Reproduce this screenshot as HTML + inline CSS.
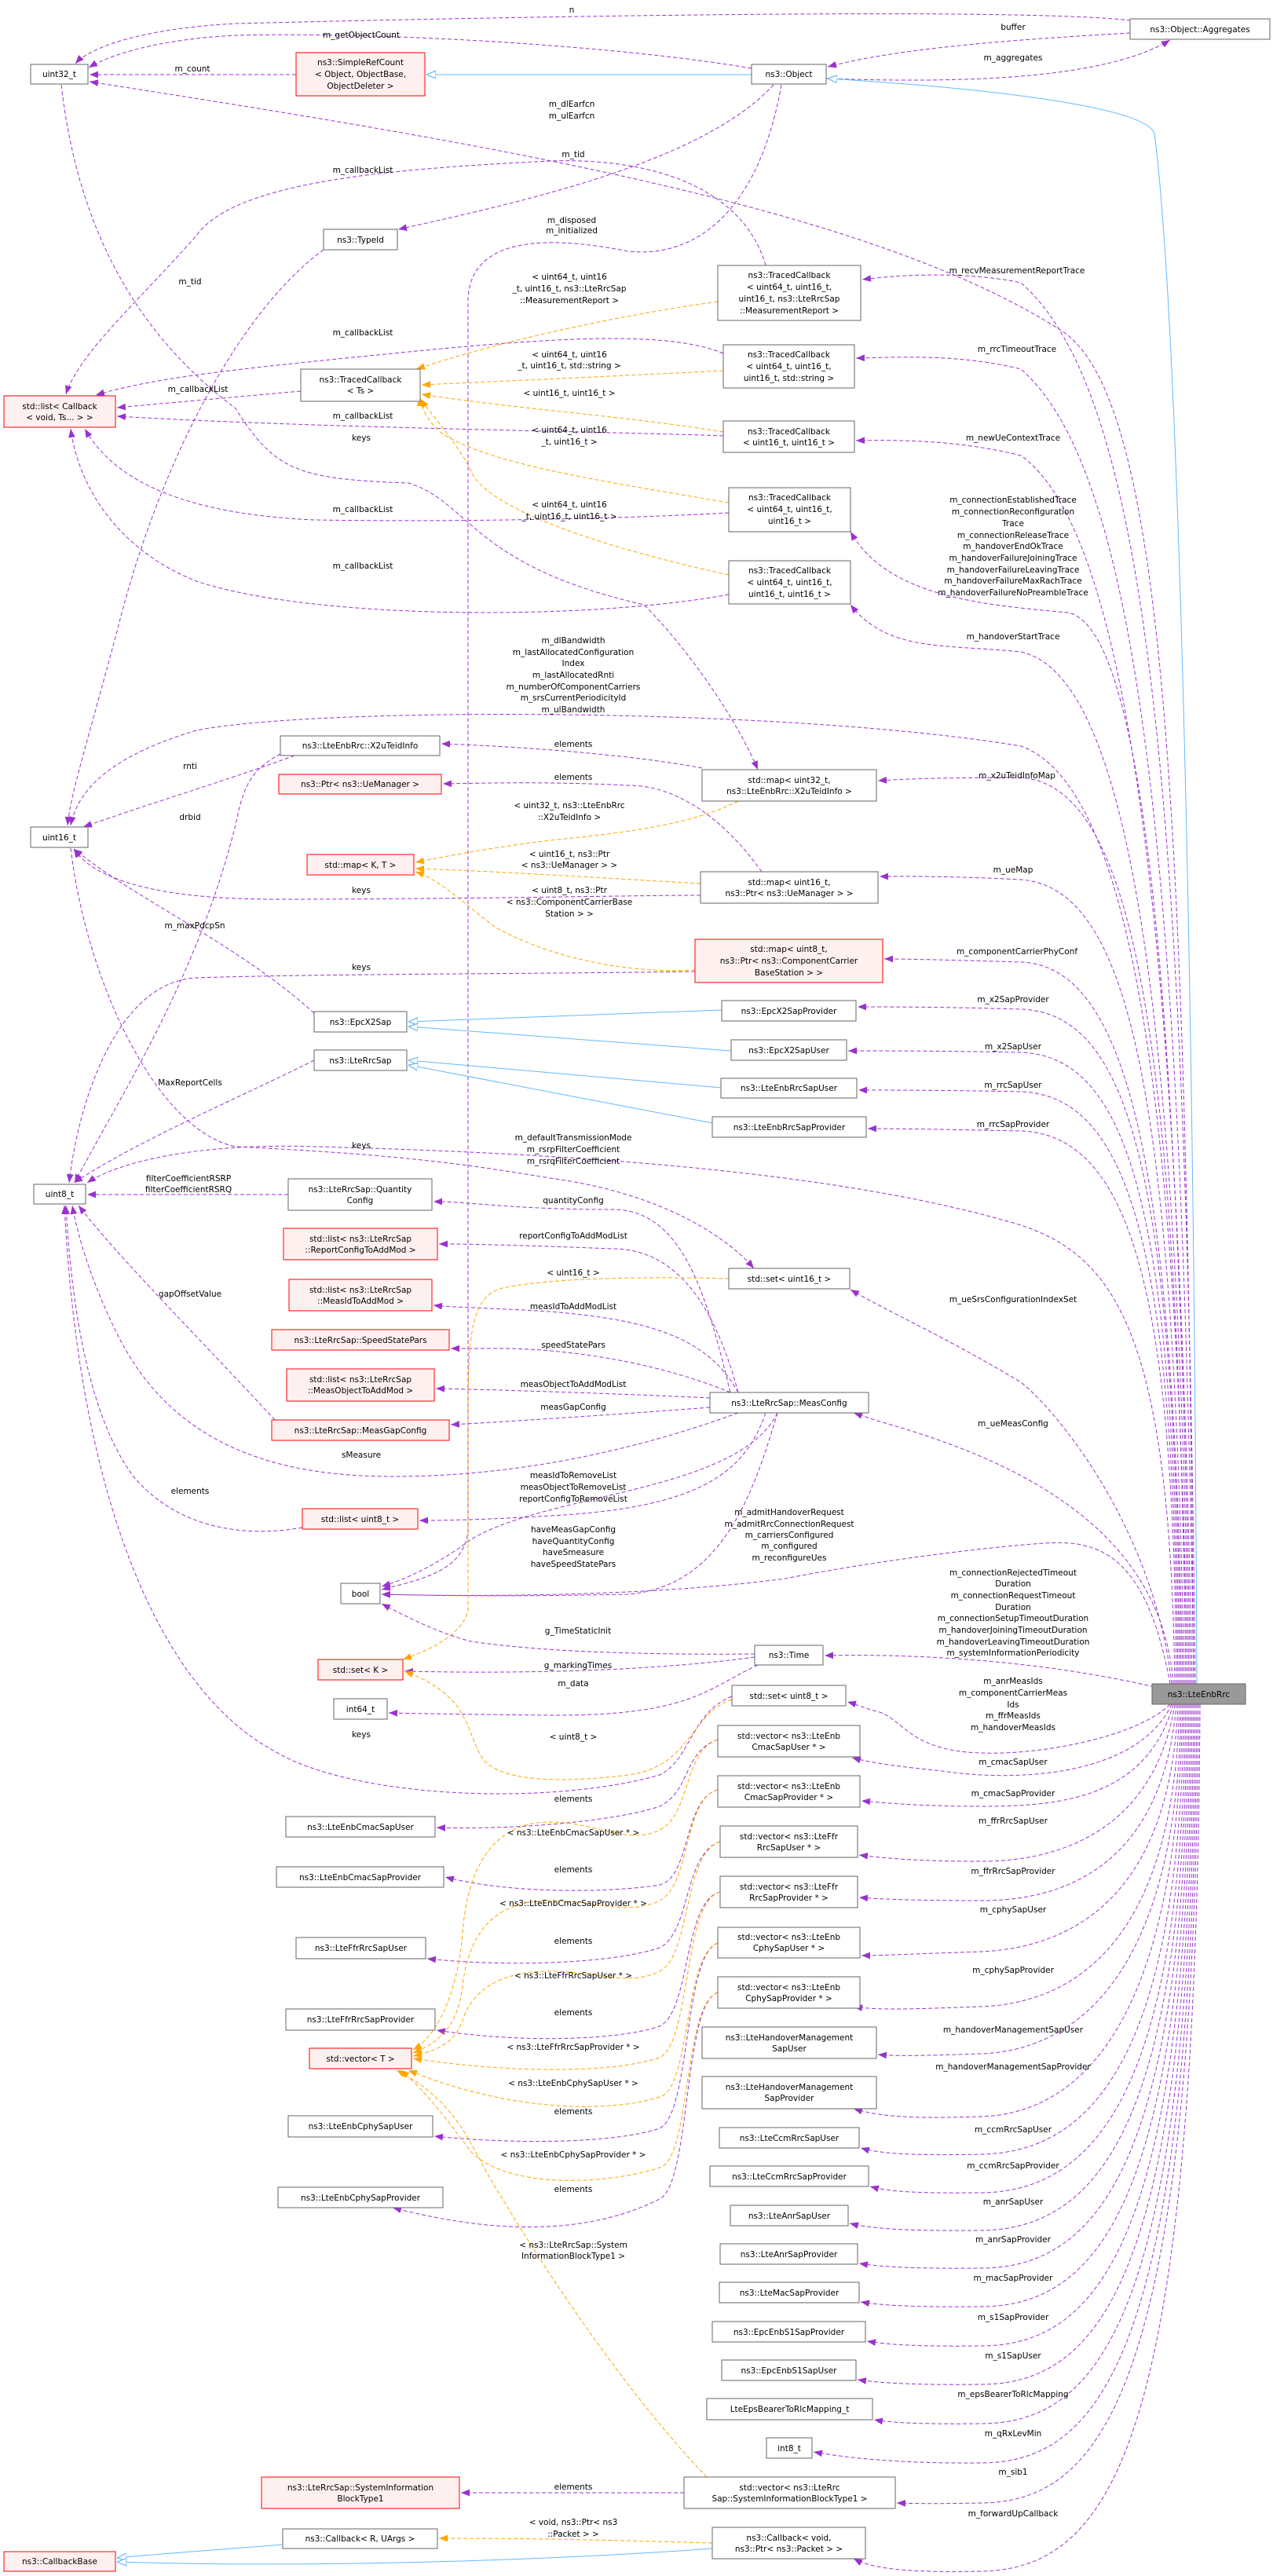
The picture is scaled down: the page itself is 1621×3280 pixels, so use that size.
<!DOCTYPE html>
<html><head><meta charset="utf-8"><style>
html,body{margin:0;padding:0;background:#fff}
svg{display:block}
text{font-family:"DejaVu Sans","Liberation Sans",sans-serif;font-size:10.5px;fill:#000}
.n{fill:#fff;stroke:#666;stroke-width:1}
.r{fill:#fff0f0;stroke:#ff0000;stroke-width:1}
.g{fill:#999;stroke:#666;stroke-width:1}
.p{fill:none;stroke:#9a32cd;stroke-width:1;stroke-dasharray:5,3;marker-end:url(#ap)}
.o{fill:none;stroke:#ffa500;stroke-width:1;stroke-dasharray:5,3;marker-end:url(#ao)}
.b{fill:none;stroke:#63b8ff;stroke-width:1;marker-end:url(#ab)}
.t{text-anchor:middle}
</style></head><body>
<svg width="1621" height="3280" viewBox="0 0 1621 3280" xmlns="http://www.w3.org/2000/svg">
<defs>
<marker id="ap" viewBox="0 0 10 10" refX="10" refY="5" markerWidth="11" markerHeight="11" markerUnits="userSpaceOnUse" orient="auto"><path d="M0,1 L10,5 L0,9z" fill="#9a32cd"/></marker>
<marker id="ao" viewBox="0 0 10 10" refX="10" refY="5" markerWidth="11" markerHeight="11" markerUnits="userSpaceOnUse" orient="auto"><path d="M0,1 L10,5 L0,9z" fill="#ffa500"/></marker>
<marker id="ab" viewBox="0 0 10 10" refX="10" refY="5" markerWidth="12" markerHeight="12" markerUnits="userSpaceOnUse" orient="auto"><path d="M0,1 L10,5 L0,9z" fill="#fff" stroke="#63b8ff"/></marker>
</defs>

<!-- ===== EDGES ===== -->
<!-- top area -->
<path class="p" d="M1440,26 C1300,10 700,20 300,30 C200,35 120,55 96,81"/>
<path class="p" d="M1439,42 C1300,50 1150,60 1054,85"/>
<path class="p" d="M1052,100 C1200,105 1400,105 1490,51"/>
<path class="p" d="M957,87 C800,60 500,40 300,45 C200,50 140,70 113,86"/>
<path class="p" d="M377,95 L114,95"/>
<path class="b" d="M957,95 L543,95"/>
<path class="b" d="M1524,2144 C1520,1200 1500,400 1470,170 C1460,140 1300,115 1054,100"/>
<path class="p" d="M1520,2144 C1510,1000 1480,500 1350,420 C1100,260 600,180 114,104"/>
<path class="p" d="M985,108 C900,200 700,250 507,292"/>
<path class="p" d="M995,108 C970,250 900,330 800,320 C700,300 600,300 596,380 L596,1950 C590,2000 540,2010 486,2024"/>
<path class="p" d="M412,318 C300,400 200,600 150,800 C110,950 90,1010 86,1051"/>
<path class="p" d="M975,338 C950,250 850,200 700,205 C500,215 300,230 250,300 C180,380 100,450 84,502"/>
<path class="p" d="M921,450 C850,420 700,430 500,450 C300,470 200,480 122,503"/>
<path class="p" d="M383,498 L149,519"/>
<path class="p" d="M921,555 C800,550 400,545 149,530"/>
<path class="p" d="M928,653 C800,660 600,665 400,662 C250,655 150,620 108,546"/>
<path class="p" d="M928,757 C750,790 400,790 250,740 C150,700 100,620 90,546"/>
<path class="p" d="M78,108 C100,300 180,430 300,520 C350,600 380,610 520,615 C600,640 600,720 820,770 C880,830 940,920 965,980"/>
<!-- orange template -> TracedCallback<Ts> -->
<path class="o" d="M914,384 C800,400 650,430 530,470"/>
<path class="o" d="M921,472 C800,478 650,485 537,490"/>
<path class="o" d="M921,550 C800,530 650,520 537,502"/>
<path class="o" d="M928,640 C750,610 620,590 560,550 C540,530 535,515 535,506"/>
<path class="o" d="M928,732 C780,700 620,650 600,600 C580,560 550,530 536,508"/>
<!-- traces from LteEnbRrc -->
<path class="p" d="M1522,2144 C1510,1000 1460,500 1300,360 C1230,345 1140,350 1098,356"/>
<path class="p" d="M1520,2144 C1505,1100 1450,600 1300,470 C1220,450 1140,455 1090,456"/>
<path class="p" d="M1518,2144 C1500,1200 1440,680 1300,580 C1220,560 1140,560 1090,561"/>
<path class="p" d="M1516,2144 C1500,1300 1460,800 1360,780 C1250,770 1130,760 1083,677"/>
<path class="p" d="M1514,2144 C1500,1300 1440,860 1300,830 C1200,820 1130,830 1083,770"/>
<path class="p" d="M1512,2144 C1500,1400 1440,1000 1300,950 C1000,900 400,900 250,930 C150,960 100,1000 90,1051"/>
<!-- uint16/uint8 section -->
<path class="p" d="M375,962 C300,990 200,1020 106,1053"/>
<path class="p" d="M357,960 C320,980 310,1000 300,1050 C250,1250 150,1400 95,1506"/>
<path class="p" d="M894,978 C800,960 650,950 562,947"/>
<path class="p" d="M970,1110 C920,1040 860,1000 800,1000 C700,995 620,997 564,998"/>
<path class="p" d="M892,1140 C800,1140 600,1145 350,1145 C200,1145 120,1120 94,1081"/>
<path class="p" d="M885,1237 C700,1240 400,1240 250,1245 C150,1250 100,1400 88,1506"/>
<path class="o" d="M940,1020 C880,1050 800,1060 700,1070 C620,1080 570,1090 529,1098"/>
<path class="o" d="M892,1125 C800,1120 650,1110 529,1106"/>
<path class="o" d="M885,1235 C800,1240 700,1220 630,1180 C590,1150 560,1120 529,1110"/>
<path class="p" d="M1510,2144 C1500,1300 1440,1000 1300,990 C1200,990 1150,992 1118,994"/>
<path class="p" d="M1508,2144 C1495,1400 1440,1130 1300,1120 C1200,1115 1150,1116 1120,1116"/>
<path class="p" d="M1506,2144 C1495,1500 1440,1230 1300,1225 C1200,1222 1150,1221 1126,1221"/>
<path class="p" d="M1504,2144 C1495,1500 1440,1290 1300,1285 C1200,1282 1130,1282 1092,1282"/>
<path class="p" d="M1502,2144 C1495,1550 1440,1345 1300,1340 C1200,1338 1120,1338 1080,1338"/>
<path class="p" d="M1500,2144 C1495,1600 1440,1395 1300,1390 C1200,1388 1130,1388 1093,1388"/>
<path class="p" d="M1498,2144 C1495,1650 1440,1445 1300,1440 C1200,1438 1140,1437 1105,1437"/>
<path class="p" d="M400,1290 C300,1200 180,1150 94,1081"/>
<path class="b" d="M919,1286 L520,1301"/>
<path class="b" d="M931,1338 L520,1307"/>
<path class="b" d="M918,1385 L520,1350"/>
<path class="b" d="M907,1430 L520,1356"/>
<path class="p" d="M400,1350 C300,1400 180,1450 94,1506"/>
<path class="p" d="M1496,2144 C1490,1700 1420,1600 1300,1560 C1100,1500 800,1470 400,1460 C250,1455 150,1480 111,1506"/>
<path class="p" d="M90,1080 C110,1250 200,1440 300,1460 C500,1470 580,1480 700,1500 C850,1520 930,1580 960,1615"/>
<path class="p" d="M367,1521 L111,1521"/>
<!-- MeasConfig -->
<path class="p" d="M930,1773 C900,1650 870,1540 780,1540 C650,1540 600,1530 552,1530"/>
<path class="p" d="M940,1773 C920,1700 880,1590 780,1590 C650,1585 600,1584 559,1584"/>
<path class="p" d="M940,1773 C900,1700 820,1680 700,1670 C620,1665 580,1665 552,1662"/>
<path class="p" d="M930,1773 C850,1740 750,1720 650,1717 L574,1717"/>
<path class="p" d="M904,1780 C800,1775 650,1770 555,1768"/>
<path class="p" d="M904,1792 C800,1800 650,1810 574,1814"/>
<path class="p" d="M940,1799 C800,1850 650,1880 500,1880 C350,1880 220,1840 150,1700 C120,1640 100,1580 92,1535"/>
<path class="p" d="M975,1799 C950,1870 900,1920 700,1930 C620,1935 570,1936 534,1936"/>
<path class="p" d="M990,1799 C960,1900 920,2020 800,2030 C650,2033 560,2032 486,2030"/>
<path class="p" d="M990,1799 C940,1900 700,1900 600,1960 C560,1990 520,2010 486,2020"/>
<path class="p" d="M350,1808 C250,1700 150,1600 100,1535"/>
<path class="p" d="M385,1945 C300,1960 220,1940 170,1880 C110,1800 90,1650 84,1535"/>
<path class="p" d="M1494,2144 C1480,1950 1300,1860 1120,1810 L1087,1799"/>
<path class="p" d="M1492,2144 C1470,1950 1350,1800 1300,1760 C1200,1700 1130,1670 1083,1642"/>
<path class="o" d="M928,1628 C800,1625 700,1628 640,1640 C600,1650 596,1700 596,1800 L596,2050 C590,2080 550,2100 513,2113"/>
<path class="p" d="M1490,2144 C1460,1980 1400,1960 1330,1965 C1250,1970 1100,1990 1000,2010 C850,2030 650,2034 486,2030"/>
<path class="p" d="M1470,2148 C1350,2120 1200,2105 1050,2108"/>
<path class="p" d="M961,2106 C850,2107 700,2105 600,2090 C560,2080 520,2060 486,2042"/>
<path class="p" d="M961,2110 C850,2125 700,2132 515,2128"/>
<path class="p" d="M965,2120 C900,2150 880,2185 700,2184 C600,2183 540,2182 495,2181"/>
<path class="p" d="M1490,2170 C1450,2210 1330,2235 1250,2232 C1160,2230 1150,2190 1120,2180 C1100,2175 1090,2170 1079,2167"/>
<path class="p" d="M932,2160 C880,2180 880,2240 840,2260 C700,2300 450,2290 350,2230 C200,2150 100,1900 82,1535"/>
<path class="o" d="M932,2164 C880,2180 880,2250 800,2260 C720,2270 640,2270 615,2240 C590,2200 600,2160 515,2128"/>
<!-- vectors -->
<path class="p" d="M1492,2170 C1450,2260 1300,2270 1200,2255 C1150,2250 1110,2245 1085,2238"/>
<path class="p" d="M1494,2170 C1460,2290 1350,2300 1250,2300 C1170,2300 1120,2295 1097,2293"/>
<path class="p" d="M1496,2170 C1470,2330 1350,2370 1250,2370 C1160,2370 1120,2365 1094,2362"/>
<path class="p" d="M1498,2170 C1480,2380 1350,2420 1250,2420 C1160,2420 1120,2418 1094,2416"/>
<path class="p" d="M1500,2170 C1490,2420 1360,2480 1250,2485 C1160,2488 1120,2490 1097,2490"/>
<path class="p" d="M1502,2170 C1495,2470 1370,2550 1250,2555 C1160,2558 1120,2560 1087,2555"/>
<path class="p" d="M1504,2170 C1500,2500 1380,2610 1250,2615 C1160,2618 1140,2618 1118,2616"/>
<path class="p" d="M1506,2170 C1500,2550 1390,2690 1250,2695 C1160,2698 1120,2695 1087,2685"/>
<path class="p" d="M1508,2170 C1502,2600 1400,2740 1250,2743 C1160,2745 1120,2742 1096,2735"/>
<path class="p" d="M1510,2170 C1505,2650 1400,2790 1250,2792 C1160,2793 1130,2790 1108,2784"/>
<path class="p" d="M1512,2170 C1507,2700 1400,2838 1250,2840 C1160,2841 1110,2838 1082,2831"/>
<path class="p" d="M1514,2170 C1509,2750 1400,2887 1250,2888 C1160,2889 1120,2886 1094,2882"/>
<path class="p" d="M1516,2170 C1511,2800 1400,2936 1250,2937 C1160,2938 1120,2935 1096,2931"/>
<path class="p" d="M1518,2170 C1513,2850 1400,2986 1250,2987 C1160,2988 1130,2985 1104,2981"/>
<path class="p" d="M1520,2170 C1515,2900 1400,3035 1250,3036 C1160,3037 1120,3034 1092,3030"/>
<path class="p" d="M1522,2170 C1517,2950 1400,3085 1250,3086 C1160,3087 1130,3084 1113,3081"/>
<path class="p" d="M1524,2170 C1519,3000 1400,3135 1250,3136 C1150,3137 1080,3130 1036,3122"/>
<path class="p" d="M1526,2170 C1521,3050 1400,3185 1250,3187 C1200,3188 1170,3188 1142,3187"/>
<path class="p" d="M1528,2170 C1523,3100 1420,3270 1250,3274 C1150,3276 1110,3270 1087,3258"/>
<!-- vector -> element types -->
<path class="p" d="M914,2215 C870,2230 880,2280 840,2300 C780,2320 650,2330 556,2327"/>
<path class="p" d="M914,2279 C870,2290 880,2390 840,2400 C780,2410 650,2412 567,2390"/>
<path class="p" d="M917,2345 C870,2360 880,2460 840,2480 C780,2500 650,2505 544,2494"/>
<path class="p" d="M917,2409 C870,2420 880,2560 840,2580 C780,2600 650,2600 556,2585"/>
<path class="p" d="M914,2474 C870,2490 880,2690 840,2710 C780,2730 650,2730 553,2720"/>
<path class="p" d="M914,2537 C870,2550 880,2780 840,2800 C760,2840 650,2850 500,2811"/>
<path class="o" d="M914,2215 C870,2230 880,2310 840,2330 C800,2350 760,2320 700,2320 C640,2320 600,2360 590,2450 C585,2530 560,2590 526,2610"/>
<path class="o" d="M914,2279 C870,2290 880,2400 840,2420 C800,2440 760,2420 700,2420 C630,2420 600,2460 590,2520 C585,2580 560,2600 526,2614"/>
<path class="o" d="M917,2345 C870,2360 880,2490 840,2510 C800,2530 760,2510 700,2510 C630,2510 600,2540 590,2570 C580,2600 560,2610 526,2618"/>
<path class="o" d="M917,2409 C870,2420 880,2600 840,2620 C780,2640 650,2640 526,2621"/>
<path class="o" d="M914,2474 C870,2490 880,2660 840,2670 C780,2690 650,2690 520,2636"/>
<path class="o" d="M914,2537 C870,2550 880,2750 840,2760 C780,2780 650,2790 600,2740 C570,2700 540,2660 510,2636"/>
<path class="o" d="M900,3154 C800,3050 700,2900 640,2800 C600,2740 590,2680 505,2636"/>
<path class="p" d="M871,3174 L587,3174"/>
<path class="o" d="M907,3238 C800,3235 700,3232 559,3232"/>
<path class="b" d="M360,3240 C260,3248 200,3252 149,3257"/>
<path class="b" d="M907,3245 C700,3260 400,3270 149,3262"/>

<!-- ===== EDGE LABELS ===== -->
<g class="t">
<text x="728" y="16">n</text>
<text x="1290" y="38">buffer</text>
<text x="1290" y="77">m_aggregates</text>
<text x="460" y="48">m_getObjectCount</text>
<text x="245" y="91">m_count</text>
<text x="728" y="136">m_dlEarfcn</text><text x="728" y="151">m_ulEarfcn</text>
<text x="730" y="200">m_tid</text>
<text x="462" y="220">m_callbackList</text>
<text x="728" y="284">m_disposed</text><text x="728" y="297">m_initialized</text>
<text x="242" y="362">m_tid</text>
<text x="725" y="356">&lt; uint64_t, uint16</text><text x="725" y="371">_t, uint16_t, ns3::LteRrcSap</text><text x="725" y="386">::MeasurementReport &gt;</text>
<text x="1295" y="348">m_recvMeasurementReportTrace</text>
<text x="462" y="427">m_callbackList</text>
<text x="725" y="455">&lt; uint64_t, uint16</text><text x="725" y="469">_t, uint16_t, std::string &gt;</text>
<text x="1295" y="448">m_rrcTimeoutTrace</text>
<text x="252" y="499">m_callbackList</text>
<text x="725" y="504">&lt; uint16_t, uint16_t &gt;</text>
<text x="462" y="533">m_callbackList</text>
<text x="725" y="551">&lt; uint64_t, uint16</text><text x="725" y="566">_t, uint16_t &gt;</text>
<text x="460" y="561">keys</text>
<text x="1290" y="561">m_newUeContextTrace</text>
<text x="725" y="646">&lt; uint64_t, uint16</text><text x="725" y="661">_t, uint16_t, uint16_t &gt;</text>
<text x="462" y="652">m_callbackList</text>
<text x="1290" y="640">m_connectionEstablishedTrace</text><text x="1290" y="655">m_connectionReconfiguration</text><text x="1290" y="670">Trace</text><text x="1290" y="685">m_connectionReleaseTrace</text><text x="1290" y="699">m_handoverEndOkTrace</text><text x="1290" y="714">m_handoverFailureJoiningTrace</text><text x="1290" y="729">m_handoverFailureLeavingTrace</text><text x="1290" y="743">m_handoverFailureMaxRachTrace</text><text x="1290" y="758">m_handoverFailureNoPreambleTrace</text>
<text x="462" y="724">m_callbackList</text>
<text x="1290" y="814">m_handoverStartTrace</text>
<text x="730" y="819">m_dlBandwidth</text><text x="730" y="834">m_lastAllocatedConfiguration</text><text x="730" y="848">Index</text><text x="730" y="863">m_lastAllocatedRnti</text><text x="730" y="878">m_numberOfComponentCarriers</text><text x="730" y="892">m_srsCurrentPeriodicityId</text><text x="730" y="907">m_ulBandwidth</text>
<text x="730" y="951">elements</text>
<text x="242" y="979">rnti</text>
<text x="1295" y="991">m_x2uTeidInfoMap</text>
<text x="730" y="993">elements</text>
<text x="725" y="1029">&lt; uint32_t, ns3::LteEnbRrc</text><text x="725" y="1044">::X2uTeidInfo &gt;</text>
<text x="242" y="1044">drbid</text>
<text x="725" y="1091">&lt; uint16_t, ns3::Ptr</text><text x="725" y="1105">&lt; ns3::UeManager &gt; &gt;</text>
<text x="1290" y="1111">m_ueMap</text>
<text x="460" y="1137">keys</text>
<text x="725" y="1137">&lt; uint8_t, ns3::Ptr</text><text x="725" y="1152">&lt; ns3::ComponentCarrierBase</text><text x="725" y="1167">Station &gt; &gt;</text>
<text x="248" y="1182">m_maxPdcpSn</text>
<text x="1295" y="1215">m_componentCarrierPhyConf</text>
<text x="460" y="1235">keys</text>
<text x="1290" y="1276">m_x2SapProvider</text>
<text x="1290" y="1336">m_x2SapUser</text>
<text x="1290" y="1385">m_rrcSapUser</text>
<text x="242" y="1382">MaxReportCells</text>
<text x="1290" y="1435">m_rrcSapProvider</text>
<text x="730" y="1452">m_defaultTransmissionMode</text><text x="730" y="1467">m_rsrpFilterCoefficient</text><text x="730" y="1482">m_rsrqFilterCoefficient</text>
<text x="460" y="1462">keys</text>
<text x="240" y="1504">filterCoefficientRSRP</text><text x="240" y="1518">filterCoefficientRSRQ</text>
<text x="730" y="1532">quantityConfig</text>
<text x="730" y="1577">reportConfigToAddModList</text>
<text x="730" y="1624">&lt; uint16_t &gt;</text>
<text x="242" y="1651">gapOffsetValue</text>
<text x="1290" y="1658">m_ueSrsConfigurationIndexSet</text>
<text x="730" y="1667">measIdToAddModList</text>
<text x="730" y="1716">speedStatePars</text>
<text x="730" y="1766">measObjectToAddModList</text>
<text x="730" y="1795">measGapConfig</text>
<text x="1290" y="1816">m_ueMeasConfig</text>
<text x="460" y="1856">sMeasure</text>
<text x="730" y="1882">measIdToRemoveList</text><text x="730" y="1897">measObjectToRemoveList</text><text x="730" y="1912">reportConfigToRemoveList</text>
<text x="242" y="1902">elements</text>
<text x="1005" y="1929">m_admitHandoverRequest</text><text x="1005" y="1944">m_admitRrcConnectionRequest</text><text x="1005" y="1958">m_carriersConfigured</text><text x="1005" y="1972">m_configured</text><text x="1005" y="1987">m_reconfigureUes</text>
<text x="730" y="1951">haveMeasGapConfig</text><text x="730" y="1966">haveQuantityConfig</text><text x="730" y="1980">haveSmeasure</text><text x="730" y="1995">haveSpeedStatePars</text>
<text x="1290" y="2006">m_connectionRejectedTimeout</text><text x="1290" y="2020">Duration</text><text x="1290" y="2035">m_connectionRequestTimeout</text><text x="1290" y="2050">Duration</text><text x="1290" y="2064">m_connectionSetupTimeoutDuration</text><text x="1290" y="2079">m_handoverJoiningTimeoutDuration</text><text x="1290" y="2094">m_handoverLeavingTimeoutDuration</text><text x="1290" y="2108">m_systemInformationPeriodicity</text>
<text x="736" y="2080">g_TimeStaticInit</text>
<text x="736" y="2124">g_markingTimes</text>
<text x="730" y="2147">m_data</text>
<text x="1290" y="2144">m_anrMeasIds</text><text x="1290" y="2159">m_componentCarrierMeas</text><text x="1290" y="2174">Ids</text><text x="1290" y="2188">m_ffrMeasIds</text><text x="1290" y="2203">m_handoverMeasIds</text>
<text x="460" y="2212">keys</text>
<text x="730" y="2215">&lt; uint8_t &gt;</text>
<text x="1290" y="2247">m_cmacSapUser</text>
<text x="1290" y="2287">m_cmacSapProvider</text>
<text x="730" y="2294">elements</text>
<text x="1290" y="2322">m_ffrRrcSapUser</text>
<text x="730" y="2337">&lt; ns3::LteEnbCmacSapUser * &gt;</text>
<text x="730" y="2384">elements</text>
<text x="1290" y="2386">m_ffrRrcSapProvider</text>
<text x="730" y="2427">&lt; ns3::LteEnbCmacSapProvider * &gt;</text>
<text x="1290" y="2435">m_cphySapUser</text>
<text x="730" y="2475">elements</text>
<text x="1290" y="2512">m_cphySapProvider</text>
<text x="730" y="2519">&lt; ns3::LteFfrRrcSapUser * &gt;</text>
<text x="730" y="2566">elements</text>
<text x="1290" y="2588">m_handoverManagementSapUser</text>
<text x="730" y="2610">&lt; ns3::LteFfrRrcSapProvider * &gt;</text>
<text x="1290" y="2635">m_handoverManagementSapProvider</text>
<text x="730" y="2656">&lt; ns3::LteEnbCphySapUser * &gt;</text>
<text x="730" y="2692">elements</text>
<text x="1290" y="2715">m_ccmRrcSapUser</text>
<text x="730" y="2747">&lt; ns3::LteEnbCphySapProvider * &gt;</text>
<text x="1290" y="2761">m_ccmRrcSapProvider</text>
<text x="730" y="2791">elements</text>
<text x="1290" y="2807">m_anrSapUser</text>
<text x="1290" y="2855">m_anrSapProvider</text>
<text x="730" y="2862">&lt; ns3::LteRrcSap::System</text><text x="730" y="2876">InformationBlockType1 &gt;</text>
<text x="1290" y="2904">m_macSapProvider</text>
<text x="1290" y="2954">m_s1SapProvider</text>
<text x="1290" y="3003">m_s1SapUser</text>
<text x="1290" y="3052">m_epsBearerToRlcMapping</text>
<text x="1290" y="3102">m_qRxLevMin</text>
<text x="1290" y="3151">m_sib1</text>
<text x="730" y="3170">elements</text>
<text x="1290" y="3204">m_forwardUpCallback</text>
<text x="730" y="3215">&lt; void, ns3::Ptr&lt; ns3</text><text x="730" y="3230">::Packet &gt; &gt;</text>
</g>

<!-- ===== NODES ===== -->
<g class="t">
<rect class="n" x="39" y="82" width="73" height="25"/><text x="75.5" y="98">uint32_t</text>
<rect class="r" x="377" y="67" width="164" height="55"/><text x="459" y="83">ns3::SimpleRefCount</text><text x="459" y="98">&lt; Object, ObjectBase,</text><text x="459" y="113">ObjectDeleter &gt;</text>
<rect class="n" x="957" y="82" width="95" height="25"/><text x="1004.5" y="98">ns3::Object</text>
<rect class="n" x="1439" y="24" width="178" height="26"/><text x="1528" y="41">ns3::Object::Aggregates</text>
<rect class="n" x="412" y="292" width="94" height="26"/><text x="459" y="309">ns3::TypeId</text>
<rect class="n" x="914" y="338" width="182" height="70"/><text x="1005" y="354">ns3::TracedCallback</text><text x="1005" y="369">&lt; uint64_t, uint16_t,</text><text x="1005" y="384">uint16_t, ns3::LteRrcSap</text><text x="1005" y="399">::MeasurementReport &gt;</text>
<rect class="n" x="921" y="439" width="167" height="55"/><text x="1004.5" y="455">ns3::TracedCallback</text><text x="1004.5" y="470">&lt; uint64_t, uint16_t,</text><text x="1004.5" y="485">uint16_t, std::string &gt;</text>
<rect class="n" x="383" y="470" width="152" height="41"/><text x="459" y="487">ns3::TracedCallback</text><text x="459" y="501">&lt; Ts &gt;</text>
<rect class="r" x="5" y="504" width="142" height="40"/><text x="76" y="521">std::list&lt; Callback</text><text x="76" y="535">&lt; void, Ts... &gt; &gt;</text>
<rect class="n" x="921" y="536" width="167" height="40"/><text x="1004.5" y="553">ns3::TracedCallback</text><text x="1004.5" y="567">&lt; uint16_t, uint16_t &gt;</text>
<rect class="n" x="928" y="621" width="155" height="56"/><text x="1005.5" y="637">ns3::TracedCallback</text><text x="1005.5" y="652">&lt; uint64_t, uint16_t,</text><text x="1005.5" y="667">uint16_t &gt;</text>
<rect class="n" x="928" y="714" width="155" height="55"/><text x="1005.5" y="730">ns3::TracedCallback</text><text x="1005.5" y="745">&lt; uint64_t, uint16_t,</text><text x="1005.5" y="760">uint16_t, uint16_t &gt;</text>
<rect class="n" x="39" y="1053" width="73" height="26"/><text x="75.5" y="1070">uint16_t</text>
<rect class="n" x="357" y="937" width="203" height="25"/><text x="458.5" y="953">ns3::LteEnbRrc::X2uTeidInfo</text>
<rect class="r" x="355" y="986" width="207" height="25"/><text x="458.5" y="1002">ns3::Ptr&lt; ns3::UeManager &gt;</text>
<rect class="n" x="894" y="980" width="222" height="40"/><text x="1005" y="997">std::map&lt; uint32_t,</text><text x="1005" y="1011">ns3::LteEnbRrc::X2uTeidInfo &gt;</text>
<rect class="r" x="391" y="1088" width="136" height="26"/><text x="459" y="1105">std::map&lt; K, T &gt;</text>
<rect class="n" x="892" y="1110" width="226" height="40"/><text x="1005" y="1127">std::map&lt; uint16_t,</text><text x="1005" y="1141">ns3::Ptr&lt; ns3::UeManager &gt; &gt;</text>
<rect class="r" x="885" y="1196" width="239" height="55"/><text x="1004.5" y="1212">std::map&lt; uint8_t,</text><text x="1004.5" y="1227">ns3::Ptr&lt; ns3::ComponentCarrier</text><text x="1004.5" y="1242">BaseStation &gt; &gt;</text>
<rect class="n" x="400" y="1288" width="118" height="26"/><text x="459" y="1305">ns3::EpcX2Sap</text>
<rect class="n" x="919" y="1274" width="171" height="26"/><text x="1004.5" y="1291">ns3::EpcX2SapProvider</text>
<rect class="n" x="931" y="1324" width="147" height="26"/><text x="1004.5" y="1341">ns3::EpcX2SapUser</text>
<rect class="n" x="400" y="1337" width="118" height="26"/><text x="459" y="1354">ns3::LteRrcSap</text>
<rect class="n" x="918" y="1373" width="173" height="25"/><text x="1004.5" y="1389">ns3::LteEnbRrcSapUser</text>
<rect class="n" x="907" y="1422" width="196" height="26"/><text x="1005" y="1439">ns3::LteEnbRrcSapProvider</text>
<rect class="n" x="43" y="1508" width="66" height="25"/><text x="76" y="1524">uint8_t</text>
<rect class="n" x="367" y="1501" width="183" height="40"/><text x="458.5" y="1518">ns3::LteRrcSap::Quantity</text><text x="458.5" y="1532">Config</text>
<rect class="r" x="361" y="1564" width="196" height="40"/><text x="459" y="1581">std::list&lt; ns3::LteRrcSap</text><text x="459" y="1595">::ReportConfigToAddMod &gt;</text>
<rect class="n" x="928" y="1615" width="154" height="26"/><text x="1005" y="1632">std::set&lt; uint16_t &gt;</text>
<rect class="r" x="368" y="1629" width="182" height="40"/><text x="459" y="1646">std::list&lt; ns3::LteRrcSap</text><text x="459" y="1660">::MeasIdToAddMod &gt;</text>
<rect class="r" x="346" y="1693" width="226" height="26"/><text x="459" y="1710">ns3::LteRrcSap::SpeedStatePars</text>
<rect class="r" x="365" y="1743" width="188" height="41"/><text x="459" y="1760">std::list&lt; ns3::LteRrcSap</text><text x="459" y="1774">::MeasObjectToAddMod &gt;</text>
<rect class="r" x="346" y="1808" width="226" height="26"/><text x="459" y="1825">ns3::LteRrcSap::MeasGapConfig</text>
<rect class="n" x="904" y="1773" width="202" height="26"/><text x="1005" y="1790">ns3::LteRrcSap::MeasConfig</text>
<rect class="r" x="385" y="1921" width="147" height="26"/><text x="458.5" y="1938">std::list&lt; uint8_t &gt;</text>
<rect class="n" x="434" y="2016" width="50" height="26"/><text x="459" y="2033">bool</text>
<rect class="n" x="961" y="2095" width="87" height="25"/><text x="1004.5" y="2111">ns3::Time</text>
<rect class="r" x="405" y="2113" width="108" height="26"/><text x="459" y="2130">std::set&lt; K &gt;</text>
<rect class="n" x="932" y="2146" width="145" height="26"/><text x="1004.5" y="2163">std::set&lt; uint8_t &gt;</text>
<rect class="n" x="425" y="2163" width="68" height="26"/><text x="459" y="2180">int64_t</text>
<rect class="g" x="1467" y="2144" width="119" height="26"/><text x="1526.5" y="2161">ns3::LteEnbRrc</text>
<rect class="n" x="914" y="2197" width="181" height="40"/><text x="1004.5" y="2214">std::vector&lt; ns3::LteEnb</text><text x="1004.5" y="2228">CmacSapUser * &gt;</text>
<rect class="n" x="364" y="2313" width="190" height="26"/><text x="459" y="2330">ns3::LteEnbCmacSapUser</text>
<rect class="n" x="914" y="2261" width="181" height="40"/><text x="1004.5" y="2278">std::vector&lt; ns3::LteEnb</text><text x="1004.5" y="2292">CmacSapProvider * &gt;</text>
<rect class="n" x="917" y="2325" width="175" height="40"/><text x="1004.5" y="2342">std::vector&lt; ns3::LteFfr</text><text x="1004.5" y="2356">RrcSapUser * &gt;</text>
<rect class="n" x="352" y="2377" width="213" height="26"/><text x="458.5" y="2394">ns3::LteEnbCmacSapProvider</text>
<rect class="n" x="917" y="2389" width="175" height="40"/><text x="1004.5" y="2406">std::vector&lt; ns3::LteFfr</text><text x="1004.5" y="2420">RrcSapProvider * &gt;</text>
<rect class="n" x="914" y="2454" width="181" height="39"/><text x="1004.5" y="2470">std::vector&lt; ns3::LteEnb</text><text x="1004.5" y="2484">CphySapUser * &gt;</text>
<rect class="n" x="377" y="2467" width="165" height="27"/><text x="459.5" y="2484">ns3::LteFfrRrcSapUser</text>
<rect class="n" x="914" y="2517" width="181" height="40"/><text x="1004.5" y="2534">std::vector&lt; ns3::LteEnb</text><text x="1004.5" y="2548">CphySapProvider * &gt;</text>
<rect class="n" x="364" y="2558" width="190" height="27"/><text x="459" y="2575">ns3::LteFfrRrcSapProvider</text>
<rect class="r" x="394" y="2608" width="130" height="26"/><text x="459" y="2625">std::vector&lt; T &gt;</text>
<rect class="n" x="894" y="2581" width="222" height="40"/><text x="1005" y="2598">ns3::LteHandoverManagement</text><text x="1005" y="2612">SapUser</text>
<rect class="n" x="894" y="2644" width="222" height="41"/><text x="1005" y="2661">ns3::LteHandoverManagement</text><text x="1005" y="2675">SapProvider</text>
<rect class="n" x="367" y="2694" width="184" height="27"/><text x="459" y="2711">ns3::LteEnbCphySapUser</text>
<rect class="n" x="916" y="2709" width="178" height="26"/><text x="1005" y="2726">ns3::LteCcmRrcSapUser</text>
<rect class="n" x="904" y="2758" width="202" height="26"/><text x="1005" y="2775">ns3::LteCcmRrcSapProvider</text>
<rect class="n" x="354" y="2785" width="210" height="26"/><text x="459" y="2802">ns3::LteEnbCphySapProvider</text>
<rect class="n" x="930" y="2808" width="150" height="26"/><text x="1005" y="2825">ns3::LteAnrSapUser</text>
<rect class="n" x="917" y="2857" width="175" height="26"/><text x="1004.5" y="2874">ns3::LteAnrSapProvider</text>
<rect class="n" x="916" y="2906" width="178" height="26"/><text x="1005" y="2923">ns3::LteMacSapProvider</text>
<rect class="n" x="907" y="2956" width="195" height="26"/><text x="1004.5" y="2973">ns3::EpcEnbS1SapProvider</text>
<rect class="n" x="919" y="3005" width="171" height="26"/><text x="1004.5" y="3022">ns3::EpcEnbS1SapUser</text>
<rect class="n" x="900" y="3054" width="211" height="27"/><text x="1005.5" y="3071">LteEpsBearerToRlcMapping_t</text>
<rect class="n" x="976" y="3104" width="58" height="26"/><text x="1005" y="3121">int8_t</text>
<rect class="r" x="333" y="3154" width="252" height="40"/><text x="459" y="3171">ns3::LteRrcSap::SystemInformation</text><text x="459" y="3185">BlockType1</text>
<rect class="n" x="871" y="3154" width="269" height="40"/><text x="1005.5" y="3171">std::vector&lt; ns3::LteRrc</text><text x="1005.5" y="3185">Sap::SystemInformationBlockType1 &gt;</text>
<rect class="n" x="360" y="3220" width="197" height="25"/><text x="458.5" y="3236">ns3::Callback&lt; R, UArgs &gt;</text>
<rect class="r" x="5" y="3249" width="142" height="25"/><text x="76" y="3265">ns3::CallbackBase</text>
<rect class="n" x="907" y="3218" width="195" height="40"/><text x="1004.5" y="3235">ns3::Callback&lt; void,</text><text x="1004.5" y="3249">ns3::Ptr&lt; ns3::Packet &gt; &gt;</text>
</g>
</svg>
</body></html>
